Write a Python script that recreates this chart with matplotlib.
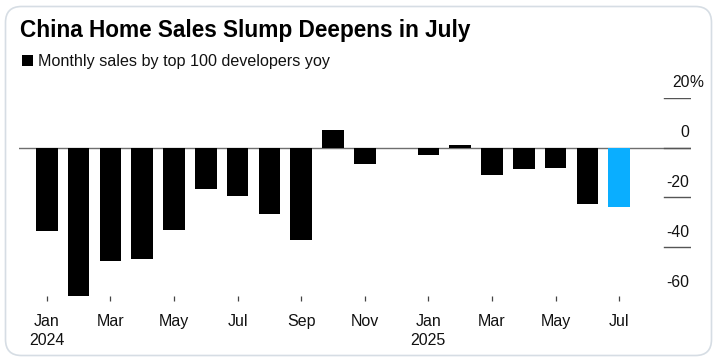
import matplotlib
matplotlib.use("Agg")
import matplotlib.pyplot as plt
from matplotlib.patches import FancyBboxPatch, Rectangle
from matplotlib.transforms import IdentityTransform, blended_transform_factory, offset_copy

# monthly yoy change of sales by top 100 developers, Jan 2024 - Jul 2025
months = ["2024-01", "2024-02", "2024-03", "2024-04", "2024-05", "2024-06",
          "2024-07", "2024-08", "2024-09", "2024-10", "2024-11", "2024-12",
          "2025-01", "2025-02", "2025-03", "2025-04", "2025-05", "2025-06",
          "2025-07"]
values = [-33.7, -59.6, -45.5, -44.7, -33.3, -16.8, -19.5, -26.5, -37.3, 7.0,
          -6.7, -0.3, -3.1, 1.2, -11.1, -8.7, -8.4, -22.5, -23.7]
tick_labels = ["Jan\n2024", "Mar", "May", "Jul", "Sep", "Nov",
               "Jan\n2025", "Mar", "May", "Jul"]
y_ticks = [20, 0, -20, -40, -60]

W, H = 718, 362
plt.rcParams["font.family"] = ["Liberation Sans", "DejaVu Sans"]

fig = plt.figure(figsize=(W / 100, H / 100), dpi=100)
fig.patch.set_facecolor("white")

# card outline
card = FancyBboxPatch((5.5, 6.5), 706, 349, boxstyle="round,pad=0,rounding_size=16",
                      transform=IdentityTransform(), facecolor="none",
                      edgecolor="#d6dde4", linewidth=1.2, zorder=-1)
fig.patches.append(card)

fig.text(20 / W, 1 - 36.7 / H, "China Home Sales Slump Deepens in July",
         fontsize=16.3, fontweight="bold", color="black", va="baseline", ha="left")
fig.patches.append(Rectangle((21.7, H - 66), 11, 11, transform=IdentityTransform(),
                             facecolor="black", edgecolor="none"))
fig.text(38.3 / W, 1 - 66 / H, "Monthly sales by top 100 developers yoy",
         fontsize=11.6, color="#111111", va="baseline", ha="left")

ax = fig.add_axes([19 / W, (H - 296) / H, 672 / W, (296 - 97.7) / H])
ax.set_facecolor("none")

x = list(range(len(values)))
colors = ["black"] * (len(values) - 1) + ["#0aaeff"]
ax.bar(x, values, width=0.68, color=colors, zorder=2)

ax.set_xlim(-0.874, 20.26)
ax.set_ylim(-59.6, 20)

ax.axhline(0, color="#6e6e6e", lw=1.0, zorder=1)
for v in y_ticks:
    ax.axhline(v, xmin=0.96, xmax=1.0, color="#555555", lw=1.0, zorder=1)

trans = offset_copy(blended_transform_factory(ax.transAxes, ax.transData),
                    fig=fig, x=-1, y=7.5, units="points")
for v in y_ticks:
    ax.text(1.0, v, str(v), transform=trans, ha="right", va="baseline",
            fontsize=11.3, color="#111111", clip_on=False)
    if v == 20:
        ax.text(1.0, v, "%", transform=trans, ha="left", va="baseline",
                fontsize=11.3, color="#111111", clip_on=False)

ax.set_yticks([])
ax.set_xticks(x[::2])
ax.set_xticklabels(tick_labels, fontsize=11.5, color="#111111", linespacing=1.32)
ax.tick_params(axis="x", length=3.4, width=0.9, color="#444444", pad=9.5)
for s in ax.spines.values():
    s.set_visible(False)

fig.savefig("out.png", dpi=100, facecolor="white")
